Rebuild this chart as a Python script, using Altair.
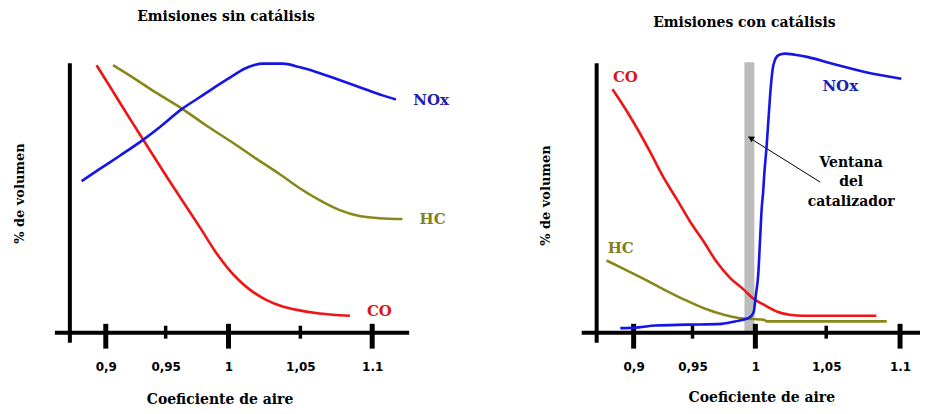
import altair as alt
import pandas as pd

# ---------------- data ----------------
TICK_VALUES = [0.9, 0.95, 1.0, 1.05, 1.1]
TICK_LABELS = ["0,9", "0,95", "1", "1,05", "1.1"]
MAJOR_TICKS = [0.9, 1.0, 1.1]
MINOR_TICKS = [0.95, 1.05]
SERIES = ["CO", "HC", "NOx"]

# Emisiones sin catálisis
SIN_CO_X = [0.8923, 0.9033, 0.9144, 0.9256, 0.9367, 0.9506, 0.9637, 0.977, 0.990, 0.9992, 1.0076, 1.0146,
            1.0262, 1.0377, 1.0493, 1.0609, 1.0724, 1.0845]
SIN_CO_Y = [99.3, 91.5, 83.5, 75.6, 67.8, 58.1, 48.7, 39.3, 29.8, 24.1, 19.3, 16.1,
            12.2, 9.7, 8.3, 7.3, 6.7, 6.3]
SIN_HC_X = [0.906, 0.923, 0.942, 0.963, 0.982, 1.003, 1.019, 1.035, 1.049, 1.063, 1.077, 1.091, 1.105, 1.121]
SIN_HC_Y = [99.3, 94.6, 89.1, 83.2, 77.0, 70.5, 64.7, 59.1, 53.8, 49.3, 45.6, 43.3, 42.5, 42.2]
SIN_NOX_X = [0.8798, 0.895, 0.9117, 0.9311, 0.945, 0.9625, 0.977, 0.9889, 1.0007, 1.0111, 1.0181, 1.0238,
             1.0377, 1.0493, 1.0609, 1.0724, 1.084, 1.0956, 1.1072, 1.1165]
SIN_NOX_Y = [56.3, 60.8, 65.7, 71.6, 76.3, 82.9, 87.4, 91.1, 94.6, 98.0, 99.4, 99.9,
             99.9, 98.6, 96.8, 94.7, 92.5, 90.3, 88.1, 86.6]
SIN_LABEL_X = [1.105, 1.142, 1.141]
SIN_LABEL_Y = [8.1, 42.2, 86.3]

# Emisiones con catálisis
CON_CO_X = [0.882, 0.892, 0.903, 0.914, 0.925, 0.937, 0.948, 0.959, 0.969, 0.980, 0.991, 0.998, 1.006, 1.015, 1.024, 1.034, 1.053, 1.084]
CON_CO_Y = [90.4, 83.8, 75.8, 67.1, 57.9, 49.3, 41.2, 33.8, 26.4, 20.3, 15.9, 12.8, 10.4, 7.9, 6.7, 6.3, 6.3, 6.3]
CON_HC_X = [0.877, 0.892, 0.909, 0.925, 0.942, 0.959, 0.975, 0.988, 0.998, 1.006, 1.008, 1.029, 1.091]
CON_HC_Y = [26.8, 23.6, 19.9, 16.2, 12.5, 9.1, 6.7, 5.4, 5.1, 4.8, 4.2, 4.2, 4.2]
CON_NOX_X = [0.8887, 0.9042, 0.9184, 0.9466, 0.9733, 0.9839, 0.9944, 0.9984, 0.9992, 1.0002, 1.0021, 1.0033, 1.0044,
             1.0056, 1.0061, 1.0080, 1.0096, 1.0110, 1.0127, 1.0162, 1.0209, 1.0279, 1.0373, 1.0536, 1.0761, 1.1009]
CON_NOX_Y = [1.7, 2.0, 2.7, 3.0, 3.3, 4.2, 5.4, 7.3, 9.1, 13.4, 22.1, 34.4, 45.6,
             53.0, 57.4, 69.6, 82.0, 91.9, 99.3, 103.0, 103.6, 103.2, 102.3, 99.9, 96.8, 94.3]
CON_LABEL_X = [0.893, 0.889, 1.0595]
CON_LABEL_Y = [94.8, 31.5, 91.5]

WINDOW_X = [0.9913, 0.9992]
WINDOW_Y = [0, 100.4]
ARROW_TAIL = [1.0458, 55.9]
ARROW_TIP = [0.9944, 72.6]
ARROW_HEAD = [0.997, 72.1]
NOTE_POS = [1.0669, 63.0]
NOTE_TEXT = "Ventana\ndel\ncatalizador"

# axis line extents (data units)
SIN_AXES = {"xline": [0.8575, 1.1257], "yline_x": 0.870}
CON_AXES = {"xline": [0.8559, 1.1135], "yline_x": 0.8686}
AXIS_Y = [-3.7, 100]
MAJOR_SPAN = [-5.9, 3.3]
MINOR_SPAN = [-2.2, 2.6]

# ---------------- styles ----------------
LINE_COLORS = {"CO": "#ee1515", "HC": "#88881a", "NOx": "#1515e6"}
TEXT_COLORS = {"CO": "#d81818", "HC": "#80801e", "NOx": "#2020b4"}
SERIF = "DejaVu Serif"
SANS = "DejaVu Sans"
PANEL_W = 457
PLOT_H = 291
Y_RANGE = [291, 21]

label_expr = " : ".join(
    [f"datum.value < {v + 0.025:.3f} ? '{l}'" for v, l in zip(TICK_VALUES[:-1], TICK_LABELS[:-1])]
) + f" : '{TICK_LABELS[-1]}'"


def panel(title, title_dx, title_offset, curves, labels_xy, x_range, axes, xtitle_x, xtitle_y,
          ytitle_x, ytitle_y, extras):
    x_enc = alt.X(
        "x:Q",
        scale=alt.Scale(domain=TICK_VALUES, range=x_range, nice=False, zero=False),
        axis=alt.Axis(
            values=TICK_VALUES, labelExpr=label_expr, domain=False, ticks=False, tickSize=0, grid=False,
            labelPadding=34, labelBaseline="middle", labelFont=SANS, labelFontWeight="bold",
            labelFontSize=12, labelColor="black", labelFlush=False, labelOverlap=False,
            title="Coeficiente de aire", titleX=xtitle_x, titleY=xtitle_y, titleBaseline="middle",
            titleAlign="center", titleFont=SERIF, titleFontSize=14, titleFontWeight="bold", titleColor="black",
        ),
    )
    y_enc = alt.Y(
        "y:Q",
        scale=alt.Scale(domain=[0, 100], range=Y_RANGE, nice=False, zero=False),
        axis=alt.Axis(
            domain=False, ticks=False, labels=False, grid=False,
            title="% de volumen", titleX=ytitle_x, titleY=ytitle_y, titleAngle=270,
            titleBaseline="middle", titleAlign="center", titleFont=SERIF, titleFontSize=13,
            titleFontWeight="bold", titleColor="black",
        ),
    )

    rows = []
    for s, (xs, ys) in zip(SERIES, curves):
        for xv, yv in zip(xs, ys):
            rows.append({"x": xv, "y": yv, "serie": s, "col": LINE_COLORS[s]})
    lines_df = pd.DataFrame(rows)
    labels_df = pd.DataFrame({"x": labels_xy[0], "y": labels_xy[1], "serie": SERIES,
                              "col": [TEXT_COLORS[s] for s in SERIES]})
    axes_df = pd.DataFrame({
        "x": [axes["xline"][0], axes["yline_x"]],
        "x2": [axes["xline"][1], axes["yline_x"]],
        "y": [0, AXIS_Y[0]],
        "y2": [0, AXIS_Y[1]],
    })
    major_df = pd.DataFrame({"x": MAJOR_TICKS, "y": MAJOR_SPAN[0], "y2": MAJOR_SPAN[1]})
    minor_df = pd.DataFrame({"x": MINOR_TICKS, "y": MINOR_SPAN[0], "y2": MINOR_SPAN[1]})

    layers = list(extras(x_enc, y_enc)) if extras else []
    layers += [
        alt.Chart(axes_df).mark_rule(color="black", strokeWidth=4).encode(x=x_enc, x2="x2:Q", y=y_enc, y2="y2:Q"),
        alt.Chart(major_df).mark_rule(color="black", strokeWidth=5).encode(x=x_enc, y=y_enc, y2="y2:Q"),
        alt.Chart(minor_df).mark_rule(color="black", strokeWidth=3.5).encode(x=x_enc, y=y_enc, y2="y2:Q"),
        alt.Chart(lines_df).mark_line(strokeWidth=2.6, interpolate="monotone").encode(
            x=x_enc, y=y_enc, color=alt.Color("col:N", scale=None), detail="serie:N"),
        alt.Chart(labels_df).mark_text(font=SERIF, fontWeight="bold", fontSize=15, align="center",
                                       baseline="middle").encode(
            x=x_enc, y=y_enc, text="serie:N", color=alt.Color("col:N", scale=None)),
    ]
    return alt.layer(*layers).properties(
        width=PANEL_W, height=PLOT_H,
        title=alt.TitleParams(title, font=SERIF, fontSize=14, fontWeight="bold", color="black",
                              anchor="middle", frame="group", dx=title_dx, offset=title_offset),
    )


def catalyst_extras(x_enc, y_enc):
    win_df = pd.DataFrame({"x": [WINDOW_X[0]], "x2": [WINDOW_X[1]], "y": [WINDOW_Y[0]], "y2": [WINDOW_Y[1]]})
    arrow_df = pd.DataFrame({"x": [ARROW_TAIL[0]], "x2": [ARROW_TIP[0]], "y": [ARROW_TAIL[1]], "y2": [ARROW_TIP[1]]})
    head_df = pd.DataFrame({"x": [ARROW_HEAD[0]], "y": [ARROW_HEAD[1]]})
    note_df = pd.DataFrame({"x": [NOTE_POS[0]], "y": [NOTE_POS[1]], "t": [NOTE_TEXT]})
    return [
        alt.Chart(win_df).mark_rect(color="#bcbcbc").encode(x=x_enc, x2="x2:Q", y=y_enc, y2="y2:Q"),
        alt.Chart(arrow_df).mark_rule(color="black", strokeWidth=1).encode(x=x_enc, x2="x2:Q", y=y_enc, y2="y2:Q"),
        alt.Chart(head_df).mark_point(shape="triangle", filled=True, color="black", size=45, angle=302,
                                      opacity=1).encode(x=x_enc, y=y_enc),
        alt.Chart(note_df).mark_text(font=SERIF, fontWeight="bold", fontSize=14, align="center",
                                     baseline="middle", lineBreak="\n", lineHeight=19.5,
                                     color="black").encode(x=x_enc, y=y_enc, text="t:N"),
    ]


left = panel(
    "Emisiones sin catálisis", -10, 18,
    [(SIN_CO_X, SIN_CO_Y), (SIN_HC_X, SIN_HC_Y), (SIN_NOX_X, SIN_NOX_Y)],
    (SIN_LABEL_X, SIN_LABEL_Y), [98, 158, 221, 293, 365], SIN_AXES,
    212, 67, 12, 151, None,
)
right = panel(
    "Emisiones con catálisis", 52.5, 12,
    [(CON_CO_X, CON_CO_Y), (CON_HC_X, CON_HC_Y), (CON_NOX_X, CON_NOX_Y)],
    (CON_LABEL_X, CON_LABEL_Y), [170, 229, 292, 363, 437], CON_AXES,
    298, 65, 82, 153, catalyst_extras,
)

chart = alt.hconcat(
    left, right, spacing=0, bounds="flush",
    padding={"top": 2, "left": 0, "right": 0, "bottom": 0},
).configure_view(stroke=None)
chart.save("out.html", embed_options={"renderer": "svg", "actions": False})
